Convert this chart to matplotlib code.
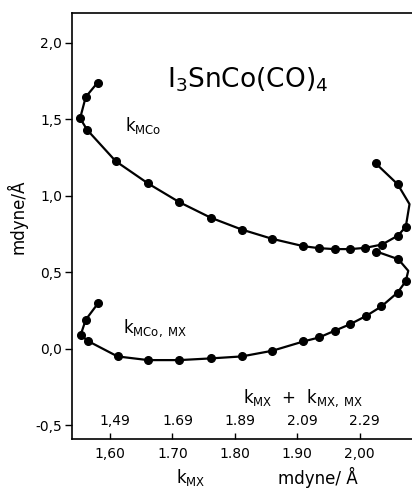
import matplotlib.pyplot as plt

# k_MCo curve (upper); the turn at the right edge
# has one extra vertex (no dot) where the drawn curve bulges out
kmco_x = [1.580, 1.561, 1.552, 1.563, 1.609, 1.661, 1.711, 1.761, 1.811, 1.860,
          1.910, 1.935, 1.960, 1.985, 2.009, 2.036, 2.061, 2.074, 2.080, 2.061, 2.026]
kmco_y = [1.741, 1.647, 1.508, 1.433, 1.227, 1.081, 0.959, 0.858, 0.780, 0.719,
          0.671, 0.658, 0.652, 0.652, 0.660, 0.682, 0.739, 0.797, 0.946, 1.076, 1.212]
kmco_dots = [i for i in range(len(kmco_x)) if i != 18]

# k_MCo,MX curve (lower)
kmcomx_x = [2.027, 2.062, 2.078, 2.074, 2.061, 2.035, 2.011, 1.985, 1.960, 1.935, 1.910,
            1.860, 1.811, 1.761, 1.711, 1.661, 1.612, 1.564, 1.553, 1.561, 1.581]
kmcomx_y = [0.636, 0.586, 0.510, 0.442, 0.368, 0.277, 0.216, 0.161, 0.118, 0.074, 0.048,
            -0.013, -0.050, -0.063, -0.074, -0.074, -0.050, 0.052, 0.092, 0.190, 0.299]
kmcomx_dots = [i for i in range(len(kmcomx_x)) if i != 2]

yticks = [-0.5, 0.0, 0.5, 1.0, 1.5, 2.0]
ytick_labels = ['-0,5', '0,0', '0,5', '1,0', '1,5', '2,0']
xticks = [1.60, 1.70, 1.80, 1.90, 2.00]
xtick_labels = ['1,60', '1.70', '1.80', '1.90', '2,00']
upper_labels = ['1,49', '1.69', '1.89', '2.09', '2.29']

fig = plt.figure(figsize=(4.12, 4.91), dpi=100)
ax = fig.add_axes([0.1748, 0.1059, 0.8252, 0.8676])

ax.plot(kmco_x, kmco_y, color='black', lw=1.6, marker='o', ms=5.5, markevery=kmco_dots)
ax.plot(kmcomx_x, kmcomx_y, color='black', lw=1.6, marker='o', ms=5.5, markevery=kmcomx_dots)

ax.set_xlim(1.539, 2.084)
ax.set_ylim(-0.59, 2.196)
ax.spines['right'].set_visible(False)
for s in ax.spines.values():
    s.set_linewidth(1.2)

ax.set_yticks(yticks)
ax.set_yticklabels(ytick_labels)
ax.set_xticks(xticks)
ax.set_xticklabels(xtick_labels)
ax.tick_params(axis='y', direction='out', length=5, width=1, pad=2, labelsize=10)
ax.tick_params(axis='x', direction='in', length=4, width=1, pad=6, labelsize=10)

# second scale printed inside the plot
for xv, lab in zip(xticks, upper_labels):
    ax.text(xv + 0.008, -0.47, lab, ha='center', va='center', fontsize=10)
ax.text(1.909, -0.32, r'k$_\mathregular{MX}$  +  k$_\mathregular{MX,\ MX}$',
        ha='center', va='center', fontsize=12)

ax.text(1.624, 1.46, r'k$_\mathregular{MCo}$', ha='left', va='center', fontsize=12)
ax.text(1.621, 0.137, r'k$_\mathregular{MCo,\ MX}$', ha='left', va='center', fontsize=12)

fig.text(0.60, 0.837, r'I$_3$SnCo(CO)$_4$', ha='center', va='center', fontsize=19)

fig.text(0.04, 0.558, 'mdyne/Å', rotation=90, ha='center', va='center', fontsize=12)
fig.text(0.463, 0.028, r'k$_\mathregular{MX}$', ha='center', va='center', fontsize=12)
fig.text(0.772, 0.027, 'mdyne/ Å', ha='center', va='center', fontsize=12)

fig.savefig('out.png', dpi=100)
